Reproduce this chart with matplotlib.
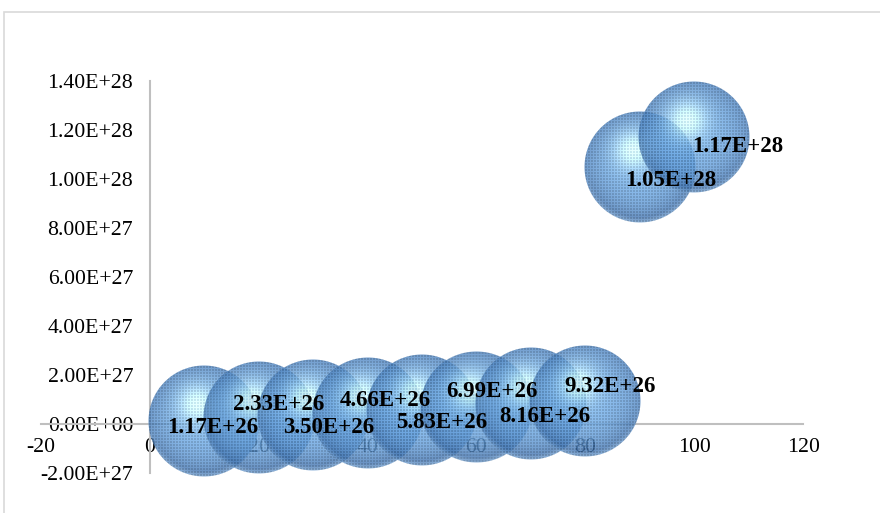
import numpy as np
import matplotlib
matplotlib.use("Agg")
import matplotlib.pyplot as plt
from matplotlib.offsetbox import OffsetImage, AnnotationBbox
from matplotlib.patches import Rectangle
from matplotlib.ticker import FuncFormatter, MultipleLocator

# data
x_vals = [10, 20, 30, 40, 50, 60, 70, 80, 90, 100]
y_vals = [1.17e26, 2.33e26, 3.50e26, 4.66e26, 5.83e26,
          6.99e26, 8.16e26, 9.32e26, 1.05e28, 1.17e28]
point_labels = ["1.17E+26", "2.33E+26", "3.50E+26", "4.66E+26", "5.83E+26",
                "6.99E+26", "8.16E+26", "9.32E+26", "1.05E+28", "1.17E+28"]

# where each data label sits relative to its bubble (pixels, right / down)
label_shift = [(8, 6), (20, -14), (16, 12), (18, -12), (20, 13),
               (16, -15), (14, 12), (25, -15), (31, 14), (44, 9)]

plt.rcParams["font.family"] = ["Liberation Serif", "DejaVu Serif"]


def sphere_image(diam=112):
    # shaded "glass ball" look like the Excel bubble effect
    c = (np.arange(diam) + 0.5) / diam * 2 - 1
    u, v = np.meshgrid(c, c)
    r = np.sqrt(u ** 2 + v ** 2)
    base = np.array([96, 152, 207]) / 255
    dark = np.array([44, 86, 140]) / 255
    light = np.array([200, 246, 255]) / 255
    d = np.sqrt((u + 0.12) ** 2 + (v + 0.3) ** 2)
    spec = np.exp(-(d / 0.34) ** 2)[..., None]
    t = np.clip(0.6 * r ** 3 + 0.4 * np.clip(v, 0, None) * r ** 2, 0, 1)[..., None]
    col = base * (1 - t) + dark * t
    col = col * (1 - spec) + light * spec
    # light rim along the lower edge
    rim = (np.clip((r - 0.9) / 0.1, 0, 1) * np.clip(v, 0, None))[..., None]
    col = col * (1 - 0.5 * rim) + np.array([170, 210, 240]) / 255 * 0.5 * rim
    # fine dotted mesh of the original rendering
    ii, jj = np.meshgrid(np.arange(diam), np.arange(diam))
    mesh = ((ii % 3 == 0) | (jj % 3 == 0))[..., None]
    col = np.where(mesh, np.clip(col * 1.08 + 0.04, 0, 1), col * 0.94)
    alpha = np.clip((1 - r) * diam / 2, 0, 1) * 0.82
    return np.dstack([col, alpha])


fig = plt.figure(figsize=(8.8, 5.13), dpi=100)
ax = fig.add_axes([41 / 880, 1 - 473 / 513, 762 / 880, 392 / 513])

# chart area border
fig.patches.append(Rectangle((4 / 880, -0.1), 1.2, 1 - 12 / 513 + 0.1,
                             transform=fig.transFigure, fill=False,
                             edgecolor="#d9d9d9", linewidth=1.2))

ax.set_xlim(-20, 120)
ax.set_ylim(-2e27, 1.4e28)
ax.xaxis.set_major_locator(MultipleLocator(20))
ax.yaxis.set_major_locator(MultipleLocator(2e27))
ax.yaxis.set_major_formatter(FuncFormatter(lambda v, p: f"{v:.2E}"))
ax.xaxis.set_major_formatter(FuncFormatter(lambda v, p: f"{v:g}"))

for side in ["top", "right"]:
    ax.spines[side].set_visible(False)
ax.spines["left"].set_position(("data", 0))
ax.spines["bottom"].set_position(("data", 0))
for side in ["left", "bottom"]:
    ax.spines[side].set_color("#bfbfbf")
    ax.spines[side].set_linewidth(1.5)
ax.tick_params(axis="both", length=0, labelsize=15.7, colors="black")
ax.tick_params(axis="y", pad=12)
ax.tick_params(axis="x", pad=10)
ax.patch.set_visible(False)

img = sphere_image(112)
for i, (x, y) in enumerate(zip(x_vals, y_vals)):
    ab = AnnotationBbox(OffsetImage(img, zoom=1, dpi_cor=False), (x, y),
                        xycoords="data", frameon=False, pad=0, zorder=3 + i * 0.01)
    ax.add_artist(ab)

for x, y, lab, (dx, dy) in zip(x_vals, y_vals, point_labels, label_shift):
    ax.annotate(lab, (x, y), xytext=(dx * 0.72, -dy * 0.72), textcoords="offset points",
                ha="center", va="center", fontsize=16.5, fontweight="bold", zorder=10)

fig.savefig("out.png", dpi=100)
